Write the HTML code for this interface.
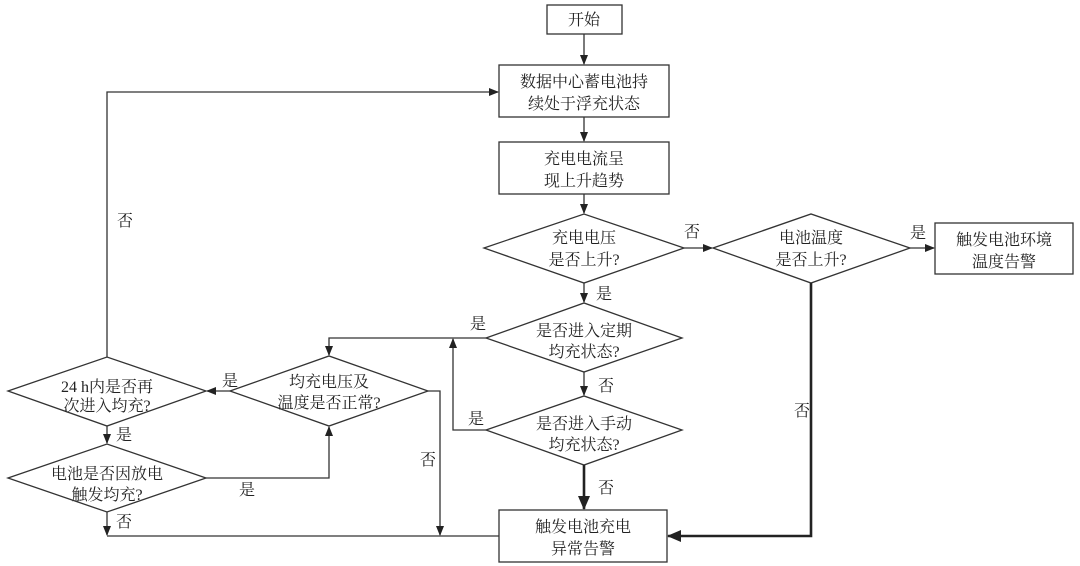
<!DOCTYPE html>
<html><head><meta charset="utf-8"><style>
html,body{margin:0;padding:0;background:#fff;}
svg{display:block;}
text{font-family:"Liberation Serif","Noto Serif CJK SC",serif;font-size:16px;fill:#222;text-anchor:middle;}
.l{fill:none;stroke:#333;stroke-width:1.3;}
.t{fill:none;stroke:#222;stroke-width:2.6;}
.s{fill:#fff;stroke:#333;stroke-width:1.3;}
</style></head><body>
<svg width="1080" height="566" viewBox="0 0 1080 566" xmlns="http://www.w3.org/2000/svg">
<defs>
<marker id="a" markerWidth="10" markerHeight="8" refX="9" refY="4" orient="auto" markerUnits="userSpaceOnUse"><path d="M0,0 L10,4 L0,8 Z" fill="#222"/></marker>
<marker id="b" markerWidth="14" markerHeight="12" refX="13" refY="6" orient="auto" markerUnits="userSpaceOnUse"><path d="M0,0 L14,6 L0,12 Z" fill="#222"/></marker>
</defs>
<!-- boxes -->
<rect class="s" x="547" y="5" width="75" height="29"/>
<text x="584" y="25">开始</text>
<rect class="s" x="499" y="65" width="170" height="52"/>
<text x="584" y="87">数据中心蓄电池持</text><text x="584" y="109">续处于浮充状态</text>
<rect class="s" x="499" y="142" width="170" height="52"/>
<text x="584" y="164">充电电流呈</text><text x="584" y="186">现上升趋势</text>
<rect class="s" x="935" y="223" width="138" height="51"/>
<text x="1004" y="245">触发电池环境</text><text x="1004" y="267">温度告警</text>
<rect class="s" x="499" y="510" width="168" height="52"/>
<text x="583" y="532">触发电池充电</text><text x="583" y="554">异常告警</text>
<!-- diamonds -->
<polygon class="s" points="484,248 584,214 684,248 584,283"/>
<text x="584" y="243">充电电压</text><text x="584" y="265">是否上升?</text>
<polygon class="s" points="713,248 811,214 910,248 811,283"/>
<text x="811" y="243">电池温度</text><text x="811" y="265">是否上升?</text>
<polygon class="s" points="486,338 584,303 682,338 584,372"/>
<text x="584" y="336">是否进入定期</text><text x="584" y="357">均充状态?</text>
<polygon class="s" points="486,430 584,396 682,430 584,465"/>
<text x="584" y="429">是否进入手动</text><text x="584" y="450">均充状态?</text>
<polygon class="s" points="230,391 329,356 428,391 329,426"/>
<text x="329" y="387">均充电压及</text><text x="329" y="408">温度是否正常?</text>
<polygon class="s" points="8,391 107,357 206,391 107,426"/>
<text x="107" y="392">24 h内是否再</text><text x="107" y="411">次进入均充?</text>
<polygon class="s" points="8,478 107,444 206,478 107,512"/>
<text x="107" y="479">电池是否因放电</text><text x="107" y="500">触发均充?</text>
<!-- connectors -->
<line class="l" x1="584" y1="34" x2="584" y2="64" marker-end="url(#a)"/>
<line class="l" x1="584" y1="117" x2="584" y2="141" marker-end="url(#a)"/>
<line class="l" x1="584" y1="194" x2="584" y2="213" marker-end="url(#a)"/>
<line class="l" x1="684" y1="248" x2="712" y2="248" marker-end="url(#a)"/>
<line class="l" x1="910" y1="248" x2="934" y2="248" marker-end="url(#a)"/>
<line class="l" x1="584" y1="283" x2="584" y2="302" marker-end="url(#a)"/>
<line class="l" x1="584" y1="372" x2="584" y2="395" marker-end="url(#a)"/>
<line class="t" x1="584" y1="465" x2="584" y2="509" marker-end="url(#b)"/>
<polyline class="t" points="811,283 811,536 668,536" marker-end="url(#b)"/>
<polyline class="l" points="486,338 329,338 329,355" marker-end="url(#a)"/>
<polyline class="l" points="486,430 453,430 453,339" marker-end="url(#a)"/>
<line class="l" x1="230" y1="391" x2="207" y2="391" marker-end="url(#a)"/>
<polyline class="l" points="428,391 440,391 440,535" marker-end="url(#a)"/>
<polyline class="l" points="206,478 329,478 329,427" marker-end="url(#a)"/>
<line class="l" x1="107" y1="426" x2="107" y2="443" marker-end="url(#a)"/>
<line class="l" x1="107" y1="512" x2="107" y2="535" marker-end="url(#a)"/>
<line class="l" x1="107" y1="536" x2="499" y2="536"/>
<polyline class="l" points="107,357 107,92 498,92" marker-end="url(#a)"/>
<!-- labels -->
<text x="125" y="226">否</text>
<text x="604" y="299">是</text>
<text x="692" y="237">否</text>
<text x="918" y="238">是</text>
<text x="478" y="329">是</text>
<text x="606" y="391">否</text>
<text x="476" y="424">是</text>
<text x="606" y="493">否</text>
<text x="802" y="416">否</text>
<text x="230" y="386">是</text>
<text x="124" y="440">是</text>
<text x="247" y="495">是</text>
<text x="428" y="465">否</text>
<text x="124" y="527">否</text>
</svg>
</body></html>
